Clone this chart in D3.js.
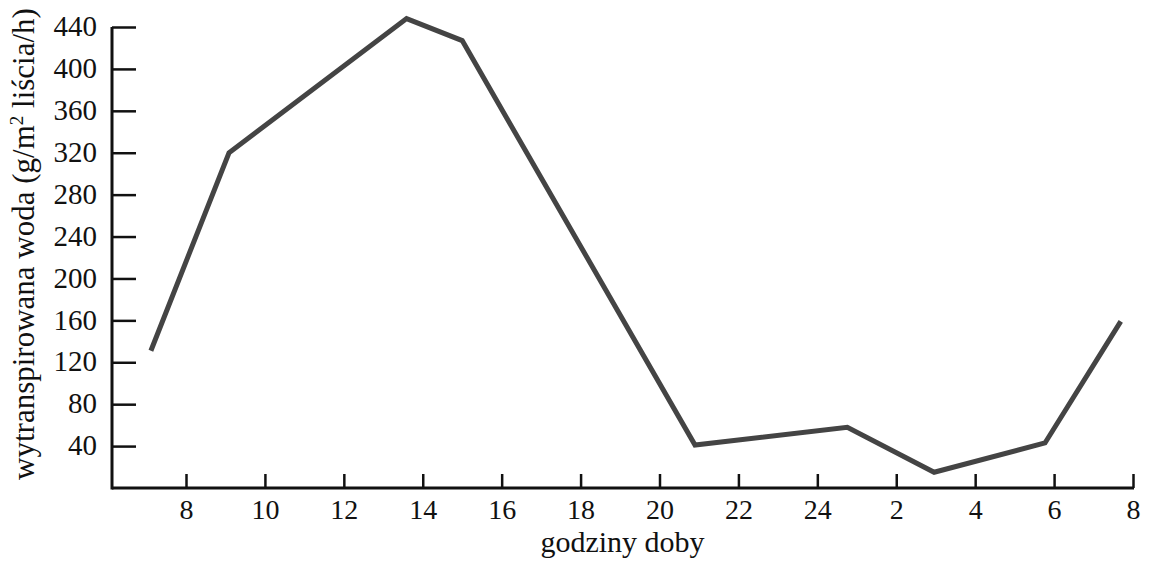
<!DOCTYPE html>
<html><head><meta charset="utf-8">
<script src="https://cdn.jsdelivr.net/npm/d3@7"></script>
<style>
body{margin:0;background:#fff;}
</style></head>
<body><svg id="c" width="1149" height="561"></svg>
<script>
// continuous hours from 7:00 on day 1 (values > 24 are next day)
const hours  = [7.11, 9.09, 13.59, 15.0, 20.9, 24.76, 26.96, 29.77, 31.69];
const values = [131, 320, 448, 427, 41, 58, 15, 43, 159];
const xTicks = [8,10,12,14,16,18,20,22,24,26,28,30,32];
const xTickLabels = ["8","10","12","14","16","18","20","22","24","2","4","6","8"];
const yTicks = [40,80,120,160,200,240,280,320,360,400,440];
const xTitle = "godziny doby";

const FONT = '"Liberation Serif"';
const svg = d3.select("#c");
const axisX = 112;
const x = d3.scaleLinear().domain([8,32]).range([186,1133]);
const y = d3.scaleLinear().domain([0,440]).range([488,27]);

// axis lines
svg.append("line").attr("x1",axisX).attr("x2",x(32)+1).attr("y1",y(0)).attr("y2",y(0))
  .attr("stroke","#111").attr("stroke-width",3);
svg.append("line").attr("x1",axisX).attr("x2",axisX).attr("y1",y(0)+1.5).attr("y2",y(440))
  .attr("stroke","#111").attr("stroke-width",3);

const gx = svg.append("g").attr("transform",`translate(0,${y(0)})`)
  .call(d3.axisBottom(x).tickValues(xTicks).tickFormat((d,i)=>xTickLabels[i]).tickSize(-14).tickPadding(11));
gx.attr("font-family",null).attr("font-size",null);
gx.select(".domain").remove();
gx.selectAll(".tick line").attr("stroke","#111").attr("stroke-width",2.5);
gx.selectAll(".tick text").style("font-size","28px").style("font-family",FONT).attr("fill","#111");

const gy = svg.append("g").attr("transform",`translate(${axisX},0)`)
  .call(d3.axisLeft(y).tickValues(yTicks).tickSize(-24).tickPadding(15));
gy.attr("font-family",null).attr("font-size",null);
gy.select(".domain").remove();
gy.selectAll(".tick line").attr("stroke","#111").attr("stroke-width",2.5);
gy.selectAll(".tick text").style("font-size","29px").style("font-family",FONT).attr("fill","#111").attr("dy","0.3em");

// data line
const line = d3.line().x((d,i)=>x(hours[i])).y(d=>y(d));
svg.append("path").datum(values).attr("d",line)
  .attr("fill","none").attr("stroke","#444").attr("stroke-width",5)
  .attr("stroke-linejoin","miter").attr("stroke-linecap","butt");

// titles
svg.append("text").attr("x",(axisX+x(32))/2).attr("y",552).attr("text-anchor","middle")
  .style("font-family",FONT).style("font-size","30px").attr("fill","#111").text(xTitle);

const yt = svg.append("text").attr("transform","translate(34,244) rotate(-90)")
  .attr("text-anchor","middle").style("font-family",FONT).style("font-size","31px").attr("fill","#111");
yt.append("tspan").text("wytranspirowana woda (g/m");
yt.append("tspan").attr("dy",-11).style("font-size","19px").text("2");
yt.append("tspan").attr("dy",11).text(" liścia/h)");
</script></body></html>
